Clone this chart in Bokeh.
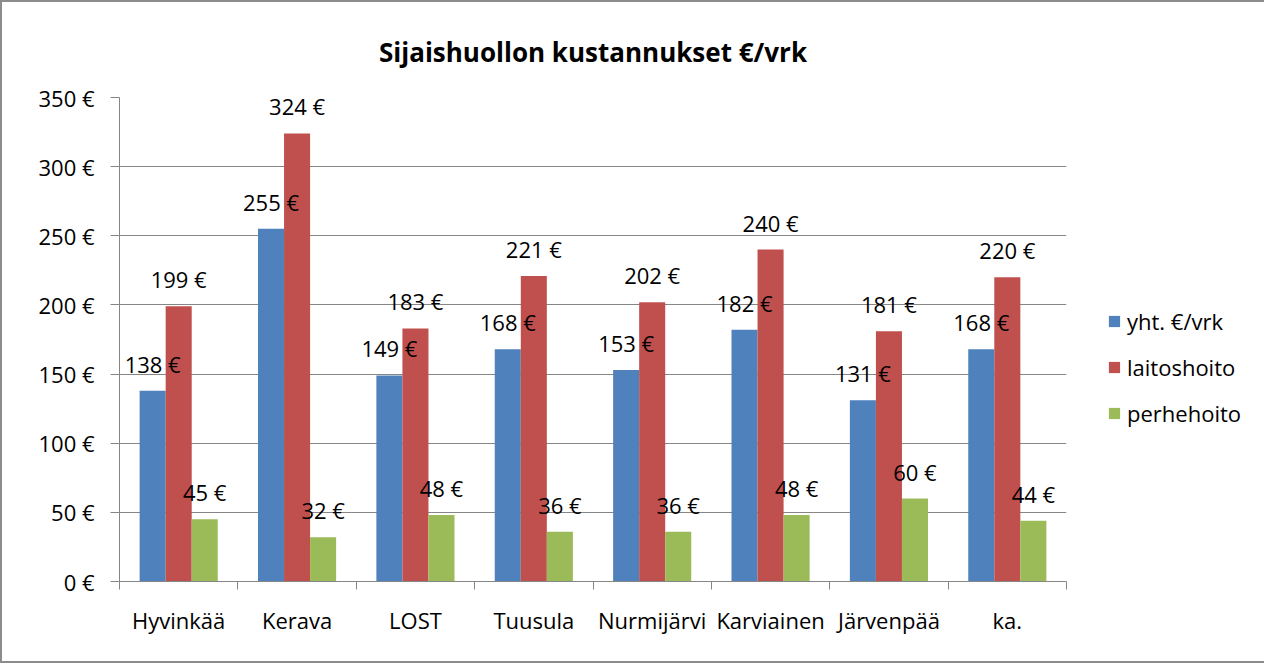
from bokeh.plotting import figure
from bokeh.models import (ColumnDataSource, Range1d, FixedTicker, LabelSet,
                          Legend, LegendItem, Title)
from bokeh.core.properties import value
from bokeh.embed import file_html
from bokeh.resources import INLINE

categories = ["Hyvinkää", "Kerava", "LOST", "Tuusula", "Nurmijärvi",
              "Karviainen", "Järvenpää", "ka."]
yht = [138, 255, 149, 168, 153, 182, 131, 168]
laitoshoito = [199, 324, 183, 221, 202, 240, 181, 220]
perhehoito = [45, 32, 48, 36, 36, 48, 60, 44]
series_names = ["yht. €/vrk", "laitoshoito", "perhehoito"]
y_ticks = [0, 50, 100, 150, 200, 250, 300, 350]

colors = ["#4F81BD", "#C0504D", "#9BBB59"]
FONT = "Open Sans"
GRAY = "#868686"
FS = "22px"

p = figure(frame_width=947, frame_height=484,
           min_border_left=117, min_border_right=194,
           min_border_top=95, min_border_bottom=80,
           x_range=Range1d(0, len(categories)), y_range=Range1d(0, 350),
           output_backend="svg", toolbar_location=None, tools="")
p.styles = {"border": "2px solid #8c8c8c"}
p.outline_line_color = None
p.background_fill_color = "white"
p.border_fill_color = "white"

title = Title(text="Sijaishuollon kustannukset €/vrk", align="center",
              text_font=FONT, text_font_size="26px", text_font_style="bold",
              text_color="black", standoff=56)
p.add_layout(title, "above")

centers = [i + 0.5 for i in range(len(categories))]
bw = 0.22
offsets = [-bw, 0.0, bw]
items = []
for vals, name, col, off in zip([yht, laitoshoito, perhehoito], series_names, colors, offsets):
    src = ColumnDataSource(dict(x=[c + off for c in centers], top=vals,
                                lab=[f"{v} €" for v in vals]))
    r = p.vbar(x="x", top="top", width=bw, source=src, fill_color=col, line_color=None)
    items.append(LegendItem(label=name, renderers=[r]))
    p.add_layout(LabelSet(x="x", y="top", text="lab", source=src, y_offset=27,
                          text_align="center", text_baseline="middle",
                          text_font=value(FONT), text_font_size=value(FS),
                          text_color="black"))

# y axis
p.yaxis.ticker = FixedTicker(ticks=y_ticks, minor_ticks=[])
p.yaxis.major_label_overrides = {t: f"{t} €" for t in y_ticks}
p.yaxis.axis_line_color = GRAY
p.yaxis.major_tick_line_color = GRAY
p.yaxis.major_tick_out = 9
p.yaxis.major_tick_in = 0
p.yaxis.minor_tick_line_color = None
p.yaxis.major_label_text_font = FONT
p.yaxis.major_label_text_font_size = FS
p.yaxis.major_label_text_color = "black"
p.yaxis.major_label_standoff = 16

# x axis
p.xaxis.ticker = FixedTicker(ticks=centers, minor_ticks=list(range(len(categories) + 1)))
p.xaxis.major_label_overrides = {c: n for c, n in zip(centers, categories)}
p.xaxis.axis_line_color = GRAY
p.xaxis.major_tick_line_color = None
p.xaxis.major_tick_out = 0
p.xaxis.major_tick_in = 0
p.xaxis.minor_tick_line_color = GRAY
p.xaxis.minor_tick_out = 8
p.xaxis.minor_tick_in = 0
p.xaxis.major_label_text_font = FONT
p.xaxis.major_label_text_font_size = FS
p.xaxis.major_label_text_color = "black"
p.xaxis.major_label_standoff = 15

p.xgrid.grid_line_color = None
p.ygrid.ticker = FixedTicker(ticks=y_ticks)
p.ygrid.grid_line_color = GRAY
p.ygrid.grid_line_width = 1

legend = Legend(items=items, location=(41, 153), orientation="vertical",
                glyph_width=14, glyph_height=14, label_standoff=6,
                label_text_font=FONT, label_text_font_size=FS,
                label_text_color="black", label_height=30, spacing=16,
                padding=2, margin=0, border_line_color=None,
                background_fill_alpha=0)
p.add_layout(legend, "right")

open("out.html", "w").write(file_html(p, INLINE))
